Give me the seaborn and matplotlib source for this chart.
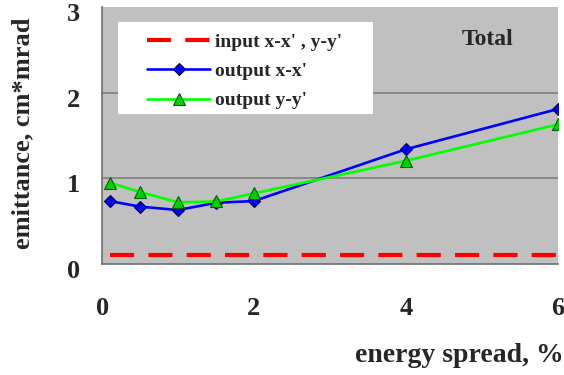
import matplotlib
matplotlib.use("Agg")
import matplotlib.pyplot as plt
import matplotlib.transforms as mtrans
from matplotlib.patches import Rectangle
import seaborn as sns
import pandas as pd

spread = [0.1, 0.5, 1.0, 1.5, 2.0, 4.0, 6.0]
out_xx = [0.735, 0.67, 0.63, 0.715, 0.735, 1.34, 1.81]
out_yy = [0.95, 0.84, 0.72, 0.73, 0.825, 1.205, 1.63]
inp_x = [0.1, 6.0]
inp_y = [0.1, 0.1]

xticks = [0, 2, 4, 6]
yticks = [0, 1, 2, 3]

sns.set_theme(style="white")
plt.rcParams['font.family'] = ['Liberation Serif', 'DejaVu Serif']
plt.rcParams['font.weight'] = 'bold'

fig = plt.figure(figsize=(5.64, 3.75), dpi=100)
ax = fig.add_axes([0.181, 0.296, 0.808, 0.685])
ax.set_facecolor('#C0C0C0')

df_in = pd.DataFrame({'x': inp_x, 'y': inp_y})
df_xx = pd.DataFrame({'x': spread, 'y': out_xx})
df_yy = pd.DataFrame({'x': spread, 'y': out_yy})

sns.lineplot(data=df_in, x='x', y='y', ax=ax, color='#FF0000', lw=3,
             label="input x-x' , y-y'")
ax.lines[-1].set_dashes([5.8, 3.4])
sns.lineplot(data=df_xx, x='x', y='y', ax=ax, color='#0000FF', lw=1.9,
             marker='D', markersize=6.5, markerfacecolor='#0000FF',
             markeredgecolor='#000040', markeredgewidth=0.8,
             label="output x-x'")
sns.lineplot(data=df_yy, x='x', y='y', ax=ax, color='#00FF00', lw=1.9,
             marker='^', markersize=8.5, markerfacecolor='#00D000',
             markeredgecolor='#006000', markeredgewidth=0.8,
             label="output y-y'")

ax.set_xlim(0, 6)
ax.set_ylim(0, 3)
ax.set_xticks(xticks)
ax.set_yticks(yticks)
for yv in [1, 2]:
    ax.axhline(yv, color='#808080', lw=1.2, zorder=0.5)

for s in ['top', 'right']:
    ax.spines[s].set_visible(False)
for s in ['left', 'bottom']:
    ax.spines[s].set_color('#707070')
    ax.spines[s].set_linewidth(1.2)

ax.tick_params(axis='x', direction='in', length=7, color='#707070', pad=24,
               labelsize=19)
ax.tick_params(axis='y', length=0, pad=16, labelsize=19)
shift = mtrans.ScaledTranslation(0, -5 / 100, fig.dpi_scale_trans)
for lab in ax.get_yticklabels():
    lab.set_transform(lab.get_transform() + shift)
for lab in ax.get_xticklabels() + ax.get_yticklabels():
    lab.set_fontweight('bold')

ax.set_xlabel('energy spread, %', fontsize=20, fontweight='bold')
ax.xaxis.set_label_coords(1.012, -0.355)
ax.xaxis.label.set_horizontalalignment('right')
ax.xaxis.label.set_verticalalignment('center')
ax.set_ylabel('emittance, cm*mrad', fontsize=19, fontweight='bold')
ax.yaxis.set_label_coords(-0.175, 0.51)
ax.yaxis.label.set_verticalalignment('center')

ax.text(0.846, 0.875, 'Total', transform=ax.transAxes, fontsize=17,
        fontweight='bold', ha='center', va='center')

ax.add_patch(Rectangle((0.035, 0.584), 0.559, 0.358, transform=ax.transAxes,
                       facecolor='white', edgecolor='none', zorder=4))
leg = ax.legend(loc='upper left', bbox_to_anchor=(0.099, 0.898), frameon=False,
                prop={'size': 14, 'weight': 'bold'}, borderpad=0,
                borderaxespad=0, handlelength=3.25, labelspacing=0.6,
                handletextpad=0.26)
leg.set_zorder(5)

fig.savefig('out.png', dpi=100)
